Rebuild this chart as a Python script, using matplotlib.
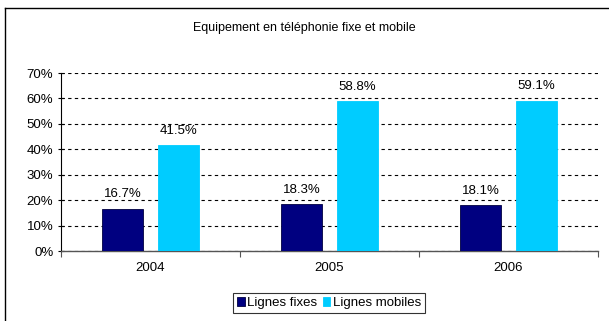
import matplotlib.pyplot as plt
from matplotlib.lines import Line2D
from matplotlib.ticker import PercentFormatter
import numpy as np

plt.rcParams['font.family'] = ['Liberation Sans', 'DejaVu Sans']

years = ["2004", "2005", "2006"]
fixes = [16.7, 18.3, 18.1]
mobiles = [41.5, 58.8, 59.1]
series_names = ["Lignes fixes", "Lignes mobiles"]

fs = 9.5

fig = plt.figure(figsize=(6.09, 3.21), dpi=100)
ax = fig.add_axes([61 / 609, 1 - 251 / 321, 537 / 609, 178 / 321])

x = np.arange(len(years))
w = 0.23
b1 = ax.bar(x - 0.155, fixes, w, color="#000080", edgecolor="#000040", linewidth=0.6, label=series_names[0], zorder=3)
b2 = ax.bar(x + 0.155, mobiles, w, color="#00CCFF", edgecolor="#00CCFF", linewidth=0.6, label=series_names[1], zorder=3)

for bars in (b1, b2):
    ax.bar_label(bars, labels=[f"{v:.1f}%" for v in bars.datavalues], padding=6, fontsize=fs)

ax.set_xlim(-0.5, 2.5)
ax.set_ylim(0, 70)
ax.set_yticks(range(0, 71, 10))
ax.yaxis.set_major_formatter(PercentFormatter(decimals=0))
ax.set_xticks(x)
ax.set_xticklabels(years)
ax.set_xticks([-0.5, 0.5, 1.5, 2.5], minor=True)
ax.tick_params(axis="x", which="major", length=0, pad=8, labelsize=fs)
ax.tick_params(axis="x", which="minor", length=4, direction="out", width=0.8, color="#555555")
ax.tick_params(axis="y", length=5, direction="inout", width=0.8, labelsize=fs, pad=3)

ax.grid(axis="y", linestyle=(0, (3, 3)), color="black", linewidth=0.8, zorder=0)
for s in ("top", "right"):
    ax.spines[s].set_visible(False)
ax.spines["left"].set_color("black")
ax.spines["bottom"].set_color("#555555")
ax.spines["left"].set_linewidth(0.8)
ax.spines["bottom"].set_linewidth(1.0)

fig.text(0.5, 1 - 28 / 321, "Equipement en téléphonie fixe et mobile", ha="center", va="center", fontsize=9)

leg = fig.legend(handles=[b1, b2], loc="center", bbox_to_anchor=(329 / 609, 1 - 303 / 321), ncol=2,
                 fontsize=fs, frameon=True, fancybox=False, edgecolor="black",
                 handlelength=0.6, handleheight=0.6, handletextpad=0.2, columnspacing=0.4,
                 borderpad=0.3, borderaxespad=0)
leg.get_frame().set_linewidth(0.8)

# border of the chart area
fig.add_artist(Line2D([5 / 609, 5 / 609], [0, 1 - 8 / 321], transform=fig.transFigure, color="black", linewidth=1))
fig.add_artist(Line2D([5 / 609, 1], [1 - 8 / 321, 1 - 8 / 321], transform=fig.transFigure, color="black", linewidth=1))

fig.savefig("out.png", dpi=100)
